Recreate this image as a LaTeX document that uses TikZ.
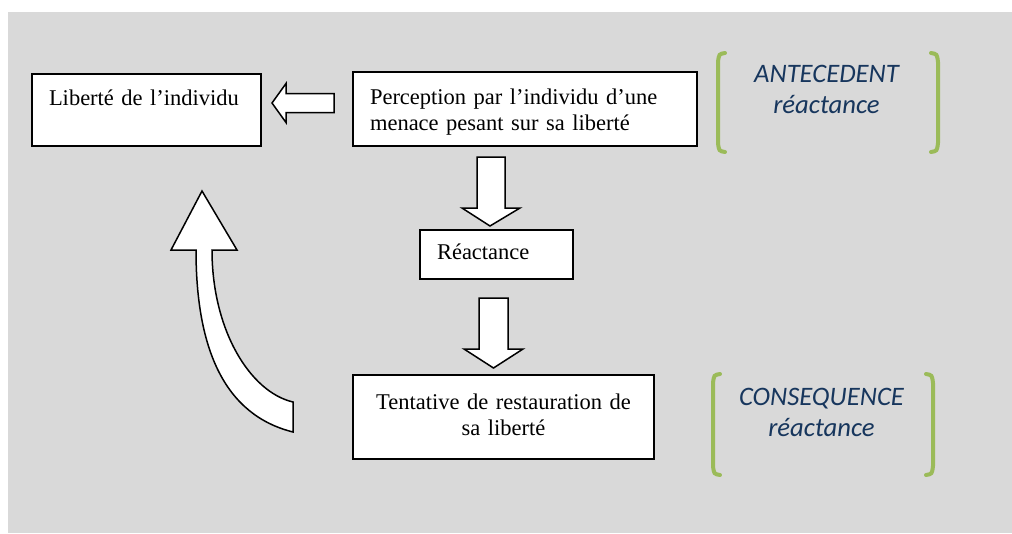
\documentclass[tikz,border=0pt]{standalone}
\usepackage{fontspec}
\setmainfont{Liberation Serif}
\newfontfamily\calibri{Carlito}
\usetikzlibrary{calc}

\definecolor{bggray}{HTML}{D9D9D9}
\definecolor{leafgreen}{HTML}{9BBB59}
\definecolor{navytext}{HTML}{17365D}

\begin{document}
\begin{tikzpicture}[x=0.6pt, y=-0.6pt,
    box/.style={draw, line width=1.2pt, fill=white, inner xsep=10.2pt, inner ysep=0pt,
        font=\fontsize{13.5}{15.6}\selectfont},
    blockarrow/.style={draw, line width=0.9pt, fill=white, line join=miter},
    bracket/.style={draw=leafgreen, line width=2.4pt, line cap=round},
    note/.style={inner sep=0pt, align=center, text=navytext,
        font=\fontsize{16}{18.6}\calibri\itshape}]
    \useasboundingbox (0,0) rectangle (1012,533);
    \fill[bggray] (8,12) rectangle (1012,533);

    \node[box, text width=117pt, align=left, minimum height=43.2pt] (liberte) at (146.5,110)
        {\rule{0pt}{14.5pt}Liberté de l’individu\\\strut};
    \node[box, text width=186pt, align=left, minimum height=44.4pt] (perception) at (525,109)
        {\rule{0pt}{14.5pt}Perception par l’individu d’une\\\strut menace pesant sur sa liberté};
    \node[box, text width=71.4pt, align=left, minimum height=29.4pt] (reactance) at (496.5,254.5)
        {\strut Réactance};
    \node[box, text width=160.2pt, align=center, minimum height=50.4pt] (tentative) at (503.5,417)
        {\strut Tentative de restauration de\\\strut sa liberté};

    % block arrows
    \draw[blockarrow] ($(perception.west)+(-18,-15.5)$) -- ++(-48,0) -- ++(0,-10) -- ++(-14,19.5)
        -- ++(14,19.5) -- ++(0,-10) -- ++(48,0) -- cycle;
    \draw[blockarrow] ($(perception.south)+(-48,10)$) -- ++(28,0) -- ++(0,51) -- ++(15,0)
        -- ++(-30,18) -- ++(-28,-18) -- ++(15,0) -- cycle;
    \draw[blockarrow] ($(reactance.south)+(-17.5,18)$) -- ++(29,0) -- ++(0,51) -- ++(15,0)
        -- ++(-29.5,19) -- ++(-29.5,-19) -- ++(15,0) -- cycle;
    \draw[blockarrow] ($(tentative.west)+(-59,-15)$)
        .. controls +(-43,-10) and +(0,80) .. ++(-81,-152)
        -- ++(25,0) -- ++(-35,-59) -- ++(-31,59) -- ++(25,0)
        .. controls +(0,100) and +(-68,-17) .. ++(97,182) -- cycle;

    \node[note] (antecedent) at (826.5,91.3) {\strut ANTECEDENT\\\strut réactance};
    \node[note] (consequence) at (821.5,414.3) {\strut CONSEQUENCE\\\strut réactance};

    \foreach \xl/\xr/\yt/\yb in {718/938/53/152, 713/933/374/475} {
        \draw[bracket] (\xl+7,\yt) .. controls (\xl+1,\yt+1) .. (\xl,\yt+9) -- (\xl,\yb-9)
            .. controls (\xl+1,\yb-1) .. (\xl+7,\yb);
        \draw[bracket] (\xr-7,\yt) .. controls (\xr-1,\yt+1) .. (\xr,\yt+9) -- (\xr,\yb-9)
            .. controls (\xr-1,\yb-1) .. (\xr-7,\yb);
    }
\end{tikzpicture}
\end{document}
